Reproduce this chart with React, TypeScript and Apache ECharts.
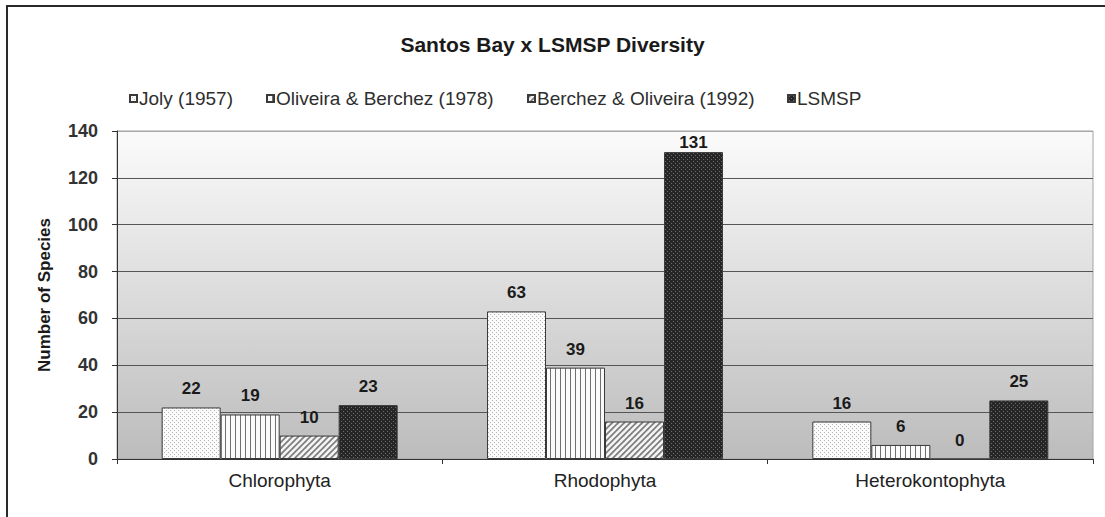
import React, { useEffect, useRef } from "react";
import * as echarts from "echarts";

const categories = ["Chlorophyta", "Rhodophyta", "Heterokontophyta"];
const seriesNames = [
  "Joly (1957)",
  "Oliveira & Berchez (1978)",
  "Berchez & Oliveira (1992)",
  "LSMSP",
];
const jolyValues = [22, 63, 16];
const oliveiraValues = [19, 39, 6];
const berchezValues = [10, 16, 0];
const lsmspValues = [23, 131, 25];
const yMin = 0;
const yMax = 140;
const yInterval = 20;

const FONT = "'Liberation Sans', Arial, sans-serif";

function makePattern(w: number, h: number, draw: (ctx: CanvasRenderingContext2D) => void) {
  const c = document.createElement("canvas");
  c.width = w;
  c.height = h;
  const ctx = c.getContext("2d") as CanvasRenderingContext2D;
  draw(ctx);
  return { image: c, repeat: "repeat", imageWidth: w, imageHeight: h } as any;
}

export default function App() {
  const ref = useRef<HTMLDivElement>(null);

  useEffect(() => {
    document.body.style.margin = "0";
    if (!ref.current) return;
    const chart = echarts.init(ref.current, undefined, { renderer: "svg" });

    const patJoly = makePattern(4, 4, (ctx) => {
      ctx.fillStyle = "#fbfbfb";
      ctx.fillRect(0, 0, 4, 4);
      ctx.fillStyle = "#b4b4b4";
      ctx.fillRect(0, 0, 1, 1);
      ctx.fillRect(2, 2, 1, 1);
    });
    const patOliveira = makePattern(5, 2, (ctx) => {
      ctx.fillStyle = "#fafafa";
      ctx.fillRect(0, 0, 5, 2);
      ctx.fillStyle = "#707070";
      ctx.fillRect(0, 0, 1, 2);
    });
    const patBerchez = makePattern(6, 6, (ctx) => {
      ctx.fillStyle = "#7c7c7c";
      ctx.fillRect(0, 0, 6, 6);
      ctx.strokeStyle = "#f4f4f4";
      ctx.lineWidth = 2.6;
      for (const o of [-6, 0, 6]) {
        ctx.beginPath();
        ctx.moveTo(o - 1, 7);
        ctx.lineTo(o + 7, -1);
        ctx.stroke();
      }
    });
    const patLsmsp = makePattern(4, 4, (ctx) => {
      ctx.fillStyle = "#262626";
      ctx.fillRect(0, 0, 4, 4);
      ctx.fillStyle = "#6c6c6c";
      ctx.fillRect(1, 1, 1, 1);
      ctx.fillRect(3, 3, 1, 1);
    });
    const patterns = [patJoly, patOliveira, patBerchez, patLsmsp];
    const values = [jolyValues, oliveiraValues, berchezValues, lsmspValues];
    const legendLeft = [129, 266, 527, 787];

    const splitColors: string[] = [];
    for (let v = yMin; v <= yMax; v += yInterval) {
      splitColors.push(v === yMax ? "#a8a8a8" : "#555555");
    }

    const series = seriesNames.map((name, i) => ({
      name,
      type: "bar",
      barWidth: 59,
      barGap: "0%",
      itemStyle: { color: patterns[i], borderColor: "#3a3a3a", borderWidth: 1 },
      label: {
        show: true,
        position: "top",
        distance: 10,
        fontFamily: FONT,
        fontWeight: "bold",
        fontSize: 17,
        color: "#1a1a1a",
      },
      data: values[i].map((v) =>
        v > yMax - 12 ? { value: v, label: { distance: 1 } } : v
      ),
    }));

    chart.setOption({
      animation: false,
      backgroundColor: "#ffffff",
      title: {
        text: "Santos Bay x LSMSP Diversity",
        left: "center",
        top: 29,
        textStyle: { fontFamily: FONT, fontWeight: "bold", fontSize: 21, color: "#1a1a1a" },
      },
      legend: seriesNames.map((n, i) => ({
        data: [n],
        left: legendLeft[i],
        top: 89,
        icon: "rect",
        itemWidth: 7,
        itemHeight: 7,
        padding: 0,
        textStyle: { fontFamily: FONT, fontSize: 19, color: "#2e2e2e", padding: [0, 0, 0, -3] },
      })),
      grid: {
        left: 117,
        right: 12,
        top: 131,
        bottom: 58,
        show: true,
        borderColor: "#a5a5a5",
        borderWidth: 1,
        backgroundColor: new echarts.graphic.LinearGradient(0, 0, 0, 1, [
          { offset: 0, color: "#fbfbfb" },
          { offset: 1, color: "#bcbcbc" },
        ]),
      },
      xAxis: {
        type: "category",
        data: categories,
        axisLine: { show: true, lineStyle: { color: "#333333", width: 1 } },
        axisTick: { show: true, length: 5, lineStyle: { color: "#333333" } },
        axisLabel: { fontFamily: FONT, fontSize: 19, color: "#222222", margin: 12 },
      },
      yAxis: {
        type: "value",
        min: yMin,
        max: yMax,
        interval: yInterval,
        name: "Number of Species",
        nameLocation: "middle",
        nameGap: 64,
        nameTextStyle: { fontFamily: FONT, fontWeight: "bold", fontSize: 17, color: "#1a1a1a" },
        axisLine: { show: true, lineStyle: { color: "#333333", width: 1 } },
        axisTick: { show: true, length: 5, lineStyle: { color: "#333333" } },
        axisLabel: { fontFamily: FONT, fontWeight: "bold", fontSize: 18, color: "#333333", margin: 19 },
        splitLine: { show: true, lineStyle: { color: splitColors, width: 1 } },
      },
      graphic: [
        { type: "line", shape: { x1: 6, y1: 6, x2: 1105, y2: 6 }, style: { stroke: "#2a2a2a", lineWidth: 2 } },
        { type: "line", shape: { x1: 7, y1: 6, x2: 7, y2: 517 }, style: { stroke: "#2a2a2a", lineWidth: 2 } },
      ],
      series,
    });

    return () => chart.dispose();
  }, []);

  return <div ref={ref} style={{ width: 1105, height: 517 }} />;
}
